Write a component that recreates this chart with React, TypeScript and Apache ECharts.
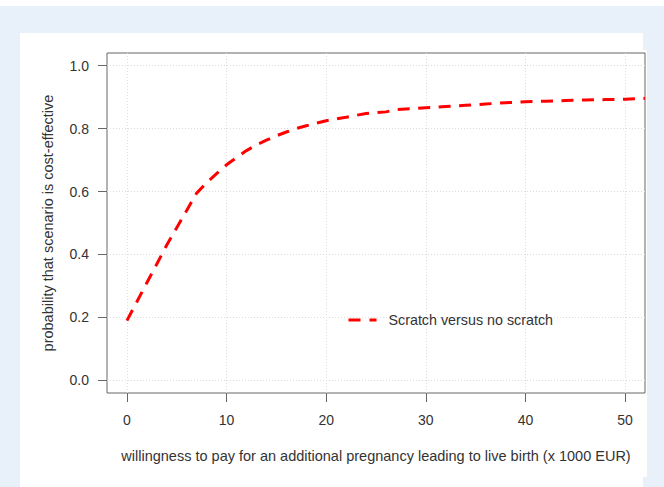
import React, { useEffect, useRef } from "react";
import * as echarts from "echarts";

const seriesName = "Scratch versus no scratch";
const xValues = [0, 1, 2, 3, 4, 5, 6, 7, 8, 9, 10, 11, 12, 13, 14, 15, 16, 17, 18, 19, 20, 22, 24, 26, 27, 28, 30, 32, 34, 36, 38, 40, 42, 44, 46, 48, 50, 52];
const yValues = [0.19, 0.25, 0.31, 0.37, 0.43, 0.485, 0.54, 0.595, 0.628, 0.657, 0.685, 0.708, 0.73, 0.748, 0.763, 0.777, 0.789, 0.8, 0.809, 0.817, 0.825, 0.836, 0.848, 0.853, 0.86, 0.862, 0.866, 0.87, 0.874, 0.878, 0.882, 0.885, 0.887, 0.889, 0.891, 0.892, 0.893, 0.896];
const xTicks = [0, 10, 20, 30, 40, 50];
const yTicks = [0, 0.2, 0.4, 0.6, 0.8, 1.0];
const xTitle = "willingness to pay for an additional pregnancy leading to live birth (x 1000 EUR)";
const yTitle = "probability that scenario is cost-effective";

const FONT = "'Liberation Sans', Arial, Helvetica, sans-serif";

export default function App() {
  const ref = useRef<HTMLDivElement>(null);
  useEffect(() => {
    if (!ref.current) return;
    const chart = echarts.init(ref.current, null, { renderer: "svg" });
    const data = xValues.map((x, i) => [x, yValues[i]]);
    chart.setOption({
      animation: false,
      backgroundColor: "#e8f0fa",
      textStyle: { fontFamily: FONT },
      graphic: [
        { type: "rect", z: -10, shape: { x: 0, y: 0, width: 664, height: 6 }, style: { fill: "#ffffff" } },
        { type: "rect", z: -10, shape: { x: 20, y: 33, width: 623, height: 454 }, style: { fill: "#ffffff" } },
        { type: "rect", z: -10, shape: { x: 640, y: 50, width: 7, height: 427 }, style: { fill: "#ffffff" } },
      ],
      grid: {
        left: 107,
        right: 19,
        top: 53,
        bottom: 94,
        show: true,
        backgroundColor: "#ffffff",
        borderColor: "#666666",
        borderWidth: 1,
      },
      legend: {
        data: [seriesName],
        left: 347,
        top: 313,
        padding: 0,
        itemWidth: 28,
        itemHeight: 14,
        itemStyle: { opacity: 0 },
        lineStyle: { type: [12, 9], width: 3 },
        textStyle: { fontSize: 14.3, color: "#333333", fontFamily: FONT, padding: [0, 0, 0, 7] },
      },
      xAxis: {
        type: "value",
        min: -2,
        max: 52,
        name: xTitle,
        nameLocation: "middle",
        nameGap: 55,
        nameTextStyle: { fontSize: 14.5, color: "#333333", fontFamily: FONT },
        axisLine: { show: false, onZero: false },
        axisTick: { show: true, length: 9, inside: false, lineStyle: { color: "#666666" }, customValues: xTicks },
        axisLabel: { fontSize: 14, color: "#333333", margin: 20, customValues: xTicks, formatter: (v: number) => String(v) },
        splitLine: { show: true, lineStyle: { color: "#dddddd", type: [1, 2], width: 1 } },
      },
      yAxis: {
        type: "value",
        min: -0.04,
        max: 1.04,
        name: yTitle,
        nameLocation: "middle",
        nameGap: 52,
        nameRotate: 90,
        nameTextStyle: { fontSize: 14.5, color: "#333333", fontFamily: FONT },
        axisLine: { show: false, onZero: false },
        axisTick: { show: true, length: 9, inside: false, lineStyle: { color: "#666666" }, customValues: yTicks },
        axisLabel: { fontSize: 14, color: "#333333", margin: 18, customValues: yTicks, formatter: (v: number) => v.toFixed(1) },
        splitLine: { show: true, lineStyle: { color: "#dddddd", type: [1, 2], width: 1 } },
      },
      series: [
        {
          name: seriesName,
          type: "line",
          data,
          symbol: "none",
          showSymbol: false,
          smooth: false,
          clip: true,
          lineStyle: { color: "#ff0000", width: 3, type: [12, 8.5] },
          itemStyle: { color: "#ff0000" },
        },
      ],
    });
    return () => chart.dispose();
  }, []);
  return <div ref={ref} style={{ position: "absolute", left: 0, top: 0, width: 664, height: 487 }} />;
}
